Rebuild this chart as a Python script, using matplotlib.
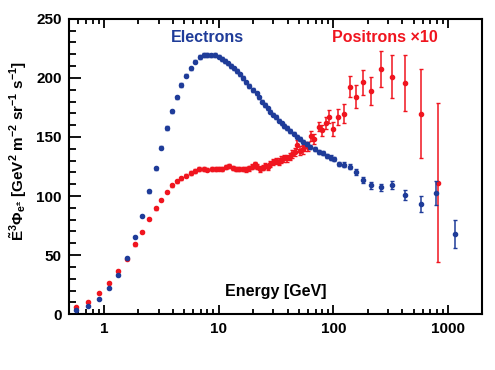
#!/usr/bin/env python3
"""AMS electron and positron (x10) flux times E^3 vs energy."""

import matplotlib
matplotlib.use("Agg")
import matplotlib.pyplot as plt
from matplotlib.ticker import LogLocator, MultipleLocator, NullFormatter

# ---------------------------------------------------------------------- data
ELEC_E = [0.567, 0.73, 0.905, 1.105, 1.33, 1.585, 1.85, 2.14, 2.47, 2.82,
          3.16, 3.52, 3.89, 4.3, 4.75, 5.22, 5.7, 6.22, 6.83, 7.4,
          8.0, 8.6, 9.3, 10.0, 10.7, 11.4, 12.05, 12.8, 13.6, 14.4,
          15.3, 16.3, 17.3, 18.5, 20.0, 21.4, 22.6, 24.0, 25.3, 26.7,
          28.3, 29.9, 31.6, 33.5, 35.4, 37.3, 39.8, 42.2, 45.0, 48.0,
          51.2, 54.7, 58.4, 63.2, 68.6, 74.4, 80.8, 88.0, 95.0, 102.0,
          111.0, 124.0, 139.0, 157.0, 182.0, 214.0, 260.0, 323.0, 425.0, 584.0,
          780.0, 1150.0]
ELEC_FLUX = [3.4, 7.0, 13.0, 21.8, 33.0, 47.7, 65.5, 83.3, 104.0, 123.4,
             141.0, 157.6, 171.8, 183.6, 194.0, 202.0, 208.0, 213.8, 217.5, 219.5,
             219.5, 219.0, 219.5, 218.0, 216.0, 214.4, 212.4, 210.0, 208.0, 206.0,
             203.0, 200.0, 196.3, 193.0, 189.8, 187.0, 183.6, 180.0, 177.0, 174.3,
             171.4, 169.0, 166.7, 163.8, 161.6, 159.3, 157.4, 155.0, 152.8, 150.3,
             148.3, 146.0, 143.8, 141.8, 139.6, 137.5, 136.2, 134.2, 132.6, 131.2,
             127.0, 126.3, 124.8, 120.6, 113.6, 109.0, 107.4, 109.3, 100.8, 93.2,
             102.3, 67.8]
ELEC_ERR = [0.3, 0.3, 0.4, 0.5, 0.6, 0.8, 0.9, 1.0, 1.1, 1.2,
            1.2, 1.3, 1.3, 1.4, 1.4, 1.4, 1.4, 1.5, 1.5, 1.5,
            1.5, 1.5, 1.5, 1.5, 1.5, 1.5, 1.5, 1.5, 1.5, 1.5,
            1.5, 1.5, 1.5, 1.5, 1.5, 1.5, 1.5, 1.5, 1.5, 1.5,
            1.5, 1.5, 1.5, 1.5, 1.5, 1.5, 1.5, 1.5, 1.5, 1.5,
            1.5, 1.5, 1.6, 1.6, 1.6, 1.7, 1.7, 1.8, 1.8, 1.9,
            2.0, 2.1, 2.2, 2.4, 2.8, 2.8, 3.0, 3.7, 4.2, 6.4,
            10.0, 12.0]

POS_E = [0.567, 0.73, 0.905, 1.105, 1.33, 1.585, 1.85, 2.14, 2.47, 2.82,
         3.16, 3.52, 3.89, 4.3, 4.75, 5.2, 5.7, 6.2, 6.8, 7.4,
         8.0, 8.7, 9.4, 10.1, 10.8, 11.6, 12.4, 13.3, 14.1, 15.1,
         16.2, 17.3, 18.5, 19.6, 20.6, 21.7, 22.9, 24.2, 25.5, 26.9,
         28.3, 29.9, 31.6, 33.3, 35.2, 37.1, 39.2, 41.5, 43.7, 46.1,
         48.3, 50.8, 54.0, 57.0, 60.5, 64.5, 68.5, 74.5, 79.5, 86.0,
         92.5, 100.0, 110.0, 123.0, 139.6, 157.0, 182.0, 214.0, 260.0, 324.0,
         425.0, 585.0, 820.0]
POS_FLUX = [5.7, 10.4, 17.5, 26.5, 36.7, 47.0, 59.0, 69.7, 80.8, 89.6,
            96.6, 103.4, 109.0, 112.5, 115.0, 117.2, 119.5, 121.2, 122.9, 122.9,
            122.3, 122.9, 122.9, 123.2, 122.9, 124.3, 125.4, 124.0, 122.9, 122.9,
            122.9, 122.6, 123.5, 124.8, 126.8, 124.8, 122.9, 124.0, 125.7, 124.8,
            126.8, 128.6, 129.7, 129.0, 130.8, 131.9, 131.9, 133.3, 135.3, 137.5,
            143.5, 138.5, 139.6, 142.0, 141.8, 151.0, 148.5, 158.5, 155.5, 162.0,
            167.0, 157.0, 167.0, 169.5, 192.6, 184.2, 196.3, 189.0, 207.6, 201.0,
            196.0, 169.5, 111.3]
POS_ERR = [0.3, 0.4, 0.5, 0.6, 0.7, 0.8, 0.9, 1.0, 1.0, 1.1,
           1.1, 1.2, 1.2, 1.2, 1.3, 1.3, 1.3, 1.3, 1.4, 1.4,
           1.4, 1.4, 1.5, 1.5, 1.5, 1.6, 1.6, 1.7, 1.7, 1.8,
           1.8, 1.9, 1.9, 2.0, 2.0, 2.1, 2.2, 2.2, 2.3, 2.4,
           2.5, 2.6, 2.7, 2.8, 2.9, 3.0, 3.1, 3.2, 3.3, 3.5,
           3.8, 3.6, 3.7, 3.8, 3.9, 4.2, 4.3, 3.8, 4.5, 5.0,
           5.5, 6.0, 7.0, 8.0, 9.0, 9.6, 10.6, 12.0, 15.0, 18.3,
           23.6, 37.7, 67.5]

BLUE = "#1f3c99"
RED = "#f0151f"

# --------------------------------------------------------------------- style
plt.rcParams["font.family"] = ["Liberation Sans", "DejaVu Sans"]
plt.rcParams["font.weight"] = "bold"
plt.rcParams["mathtext.fontset"] = "custom"
plt.rcParams["mathtext.rm"] = "Liberation Sans:bold"
plt.rcParams["mathtext.it"] = "Liberation Sans:bold"
plt.rcParams["mathtext.bf"] = "Liberation Sans:bold"
plt.rcParams["mathtext.default"] = "rm"

fig = plt.figure(figsize=(4.95, 3.70), dpi=100)
ax = fig.add_axes([0.139, 0.151, 0.835, 0.798])

ax.errorbar(POS_E, POS_FLUX, yerr=POS_ERR, fmt="o", ms=3.0, color=RED,
            ecolor=RED, elinewidth=1.1, capsize=1.6, capthick=1.0, zorder=2)
ax.errorbar(ELEC_E, ELEC_FLUX, yerr=ELEC_ERR, fmt="o", ms=3.0, color=BLUE,
            ecolor=BLUE, elinewidth=1.1, capsize=1.6, capthick=1.0, zorder=3)

ax.set_xscale("log")
ax.set_xlim(0.495, 1980)
ax.set_ylim(0, 250)

ax.set_xticks([1, 10, 100, 1000])
ax.set_xticklabels(["1", "10", "100", "1000"])
ax.xaxis.set_minor_locator(LogLocator(base=10, subs=range(2, 10), numticks=20))
ax.xaxis.set_minor_formatter(NullFormatter())
ax.yaxis.set_major_locator(MultipleLocator(50))
ax.yaxis.set_minor_locator(MultipleLocator(10))

ax.tick_params(axis="x", which="both", direction="in", top=True, bottom=True,
               labelsize=11, pad=6, width=1.3)
ax.tick_params(axis="x", which="major", length=6.5)
ax.tick_params(axis="x", which="minor", length=3.6)
ax.tick_params(axis="y", which="both", direction="in", left=True, right=False,
               labelsize=11, pad=5, width=1.3)
ax.tick_params(axis="y", which="major", length=8.5)
ax.tick_params(axis="y", which="minor", length=4.8)
for spine in ax.spines.values():
    spine.set_linewidth(1.5)

ax.text(8.07, 234, "Electrons", color=BLUE, fontsize=11.5, fontweight="bold",
        ha="center", va="center")
ax.text(282, 234, "Positrons \u00d710", color=RED, fontsize=11.5,
        fontweight="bold", ha="center", va="center")
ax.text(0.5, 0.075, "Energy [GeV]", transform=ax.transAxes, fontsize=11.5,
        fontweight="bold", ha="center", va="center")

fig.text(18 / 495, 1 - 151 / 370,
         r"$\tilde{E}^3\Phi_{e^{\pm}}$ [GeV$^2$ m$^{-2}$ sr$^{-1}$ s$^{-1}$]",
         rotation=90, fontsize=11, fontweight="bold", ha="center", va="center")

fig.savefig("out.png", dpi=100, facecolor="white")
